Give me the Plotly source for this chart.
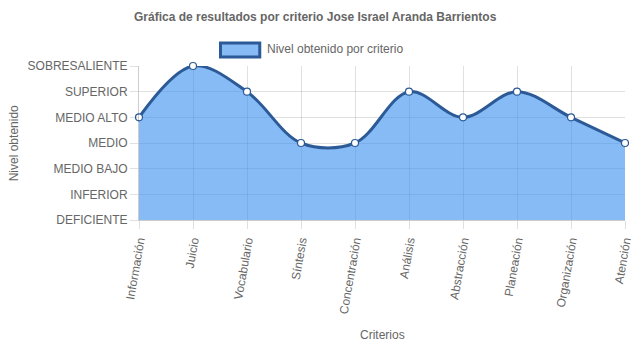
import plotly.graph_objects as go

# Criteria evaluated and the level reached in each one (0 = DEFICIENTE ... 6 = SOBRESALIENTE)
criterios = ["Información", "Juicio", "Vocabulario", "Síntesis", "Concentración",
             "Análisis", "Abstracción", "Planeación", "Organización", "Atención"]
niveles = ["DEFICIENTE", "INFERIOR", "MEDIO BAJO", "MEDIO", "MEDIO ALTO", "SUPERIOR", "SOBRESALIENTE"]
nivel_obtenido = [4, 6, 5, 3, 3, 5, 4, 5, 4, 3]

FONT = "Liberation Sans, Arial, Helvetica, sans-serif"
GREY = "#666666"
LINE = "#2c5a96"
FILL = "rgba(55,142,238,0.6)"
GRID = "rgba(0,0,0,0.12)"

fig = go.Figure()
fig.add_trace(go.Scatter(
    x=list(range(len(criterios))),
    y=nivel_obtenido,
    mode="lines+markers",
    line=dict(shape="spline", smoothing=1.0, color=LINE, width=3),
    fill="tozeroy",
    fillcolor=FILL,
    marker=dict(size=7, color="white", line=dict(color=LINE, width=1.2)),
    cliponaxis=False,
    showlegend=False,
    name="Nivel obtenido por criterio",
))

# plot area is 495 x 154 px, so paper coords map to pixels as below
def px_x(p):
    return (p - 139) / 495

def px_y(p):
    return (220 - p) / 154

fig.update_layout(
    width=637, height=348,
    margin=dict(l=139, r=3, t=66, b=128),
    paper_bgcolor="white", plot_bgcolor="white",
    font=dict(family=FONT, size=12, color=GREY),
    showlegend=False,
    xaxis=dict(
        range=[0, len(criterios) - 1],
        tickvals=list(range(len(criterios))),
        ticktext=criterios,
        tickangle=-80,
        ticklabeloverflow="allow",
        showgrid=True, gridcolor=GRID, gridwidth=1,
        ticks="outside", ticklen=8, tickcolor=GRID,
        showline=True, linecolor="rgba(0,0,0,0.2)", linewidth=1,
        zeroline=False,
        tickfont=dict(size=12, color=GREY),
    ),
    yaxis=dict(
        range=[0, len(niveles) - 1],
        tickvals=list(range(len(niveles))),
        ticktext=niveles,
        showgrid=True, gridcolor=GRID, gridwidth=1,
        ticks="outside", ticklen=8, tickcolor=GRID,
        showline=True, linecolor="rgba(0,0,0,0.2)", linewidth=1,
        zeroline=False,
        tickfont=dict(size=12, color=GREY),
    ),
    shapes=[dict(
        type="rect", xref="paper", yref="paper",
        x0=px_x(222), x1=px_x(262), y0=px_y(57), y1=px_y(43),
        fillcolor="rgba(135,187,245,1)", line=dict(color=LINE, width=3),
    )],
    annotations=[
        dict(text="<b>Gráfica de resultados por criterio Jose Israel Aranda Barrientos</b>",
             xref="paper", yref="paper", x=px_x(318.5), y=px_y(17),
             showarrow=False, xanchor="center", yanchor="middle",
             font=dict(size=12, color=GREY)),
        dict(text="Nivel obtenido por criterio",
             xref="paper", yref="paper", x=px_x(267), y=px_y(49),
             showarrow=False, xanchor="left", yanchor="middle",
             font=dict(size=12, color=GREY)),
        dict(text="Nivel obtenido",
             xref="paper", yref="paper", x=px_x(12), y=0.5, textangle=-90,
             showarrow=False, xanchor="center", yanchor="middle",
             font=dict(size=12, color=GREY)),
        dict(text="Criterios",
             xref="paper", yref="paper", x=0.5, y=px_y(335),
             showarrow=False, xanchor="center", yanchor="middle",
             font=dict(size=12, color=GREY)),
    ],
)

fig.write_html("out.html")
